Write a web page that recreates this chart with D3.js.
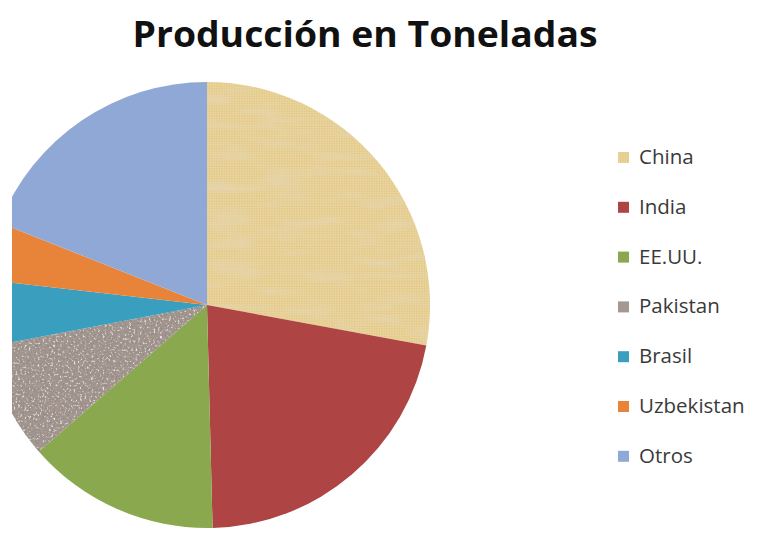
<!DOCTYPE html>
<html><head><meta charset="utf-8">
<script src="https://cdn.jsdelivr.net/npm/d3@7"></script>
<style>body{margin:0;background:#fff}svg{display:block}</style>
</head><body>
<script>
const categories = ["China","India","EE.UU.","Pakistan","Brasil","Uzbekistan","Otros"];
const values = [27.9, 21.7, 14.0, 8.4, 4.8, 4.2, 19.0];
const colors = ["#E7CF93","#AE4444","#8AA94F","#A59890","#3A9FBF","#E8843A","#90A8D5"];
const title = "Producción en Toneladas";

const W = 778, H = 558;
const svg = d3.select("body").append("svg").attr("width", W).attr("height", H);
const defs = svg.append("defs");

// burlap texture for China
const pc = defs.append("pattern").attr("id","burlap").attr("patternUnits","userSpaceOnUse").attr("width",5).attr("height",5);
pc.append("rect").attr("width",5).attr("height",5).attr("fill",colors[0]);
pc.append("path").attr("d","M0 1.2H5M0 3.7H5").attr("stroke","#D6BB7A").attr("stroke-width",0.9).attr("opacity",0.55);
pc.append("path").attr("d","M1.2 0V5M3.7 0V5").attr("stroke","#F1DFAC").attr("stroke-width",0.9).attr("opacity",0.6);

const fb = defs.append("filter").attr("id","mottle").attr("x",0).attr("y",0).attr("width",1).attr("height",1);
fb.append("feTurbulence").attr("type","fractalNoise").attr("baseFrequency","0.02 0.08").attr("numOctaves",2).attr("seed",7).attr("result","n");
fb.append("feColorMatrix").attr("in","n").attr("type","matrix")
  .attr("values","0 0 0 0 0.78  0 0 0 0 0.66  0 0 0 0 0.42  2.2 0 0 0 -1.0").attr("result","m");
fb.append("feComposite").attr("in","m").attr("in2","SourceGraphic").attr("operator","in").attr("result","mm");
fb.append("feMerge").call(s=>{s.append("feMergeNode").attr("in","SourceGraphic");s.append("feMergeNode").attr("in","mm");});

// granite texture for Pakistan
const fg = defs.append("filter").attr("id","granite").attr("x",0).attr("y",0).attr("width",1).attr("height",1);
fg.append("feTurbulence").attr("type","fractalNoise").attr("baseFrequency",0.45).attr("numOctaves",2).attr("seed",3).attr("result","n");
fg.append("feColorMatrix").attr("in","n").attr("type","matrix")
  .attr("values","0 0 0 0 0.32  0 0 0 0 0.27  0 0 0 0 0.26  6 0 0 0 -2.9").attr("result","dark");
fg.append("feColorMatrix").attr("in","n").attr("type","matrix")
  .attr("values","0 0 0 0 0.80  0 0 0 0 0.76  0 0 0 0 0.74  -5 0 0 0 2.0").attr("result","light");
fg.append("feComposite").attr("in","dark").attr("in2","SourceGraphic").attr("operator","in").attr("result","d2");
fg.append("feComposite").attr("in","light").attr("in2","SourceGraphic").attr("operator","in").attr("result","l2");
fg.append("feMerge").call(s=>{s.append("feMergeNode").attr("in","SourceGraphic");s.append("feMergeNode").attr("in","l2");s.append("feMergeNode").attr("in","d2");});

defs.append("clipPath").attr("id","clipL").append("rect").attr("x",12).attr("y",0).attr("width",W).attr("height",H);

svg.append("text").attr("x",365).attr("y",47).attr("text-anchor","middle")
  .attr("font-family","'Open Sans', Lato, sans-serif").attr("font-weight","bold").attr("font-size",36)
  .attr("textLength",465).attr("lengthAdjust","spacingAndGlyphs")
  .attr("fill","#111").text(title);

const data = categories.map((c,i)=>({name:c, value:values[i], color:colors[i]}));
const pie = d3.pie().value(d=>d.value).sort(null);
const arc = d3.arc().innerRadius(0).outerRadius(223);

const g = svg.append("g").attr("clip-path","url(#clipL)")
  .append("g").attr("transform","translate(207,305)");
const arcs = pie(data);
g.selectAll("path.s").data(arcs).join("path").attr("class","s")
  .attr("d",arc)
  .attr("fill",(d,i)=> i===0 ? "url(#burlap)" : d.data.color)
  .attr("filter",(d,i)=> i===3 ? "url(#granite)" : i===0 ? "url(#mottle)" : null);

const leg = svg.append("g").attr("transform","translate(618,0)");
const rows = leg.selectAll("g").data(data).join("g")
  .attr("transform",(d,i)=>`translate(0,${157 + i*49.8})`);
rows.append("rect").attr("x",0).attr("y",-5).attr("width",11).attr("height",11)
  .attr("fill",(d,i)=> i===0 ? "url(#burlap)" : d.color);
rows.append("text").attr("x",21).attr("y",7).attr("font-family","'Open Sans', Lato, sans-serif")
  .attr("font-size",20.5).attr("fill","#3a3a3a").text(d=>d.name);
</script>
</body></html>
